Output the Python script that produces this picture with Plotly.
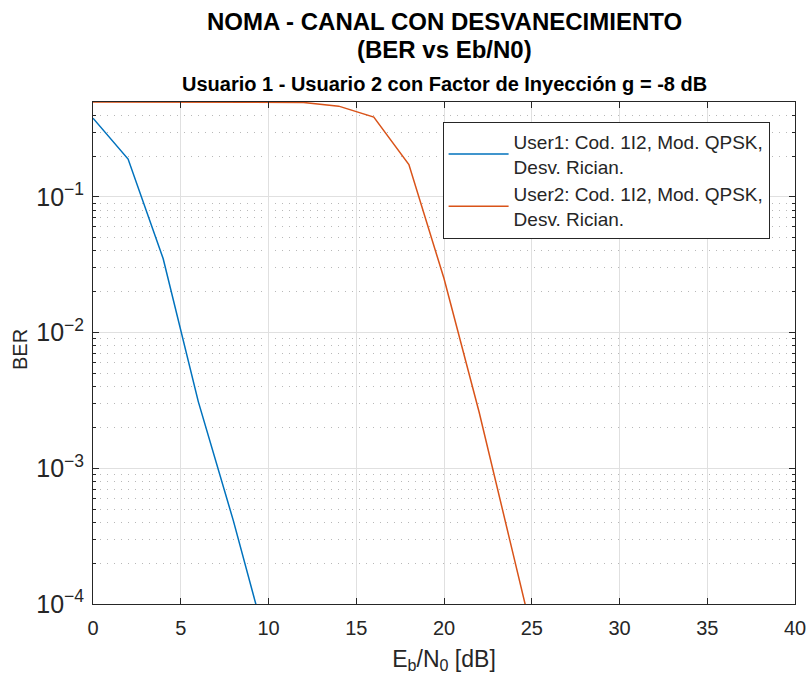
import plotly.graph_objects as go

# Eb/N0 points (dB) and simulated BER for each user
ebn0_user1 = [0, 2, 4, 6, 8, 10]
ber_user1 = [0.38, 0.19, 0.035, 0.0031, 0.00041, 0.000045]

ebn0_user2 = [0, 2, 4, 6, 8, 10, 12, 14, 16, 18, 20, 22, 24, 26]
ber_user2 = [0.5, 0.5, 0.5, 0.5, 0.5, 0.5, 0.496, 0.466, 0.387, 0.173,
             0.025, 0.0026, 0.00023, 0.000018]

legend_user1 = "User1: Cod. 1I2, Mod. QPSK,<br>Desv. Rician."
legend_user2 = "User2: Cod. 1I2, Mod. QPSK,<br>Desv. Rician."

x_ticks = [0, 5, 10, 15, 20, 25, 30, 35, 40]

FONT = "Liberation Sans, Arial, Helvetica, sans-serif"
TXT = "#262626"

fig = go.Figure()
fig.add_trace(go.Scatter(x=ebn0_user1, y=ber_user1, mode="lines",
                         name=legend_user1,
                         line=dict(color="#0072BD", width=1.5)))
fig.add_trace(go.Scatter(x=ebn0_user2, y=ber_user2, mode="lines",
                         name=legend_user2,
                         line=dict(color="#D95319", width=1.5)))

L, R, T, B = 93, 16, 102, 78
W, H = 811, 682
pw = W - L - R
ph = H - T - B


def px(pix):
    return (pix - L) / pw


def py(pix):
    return (H - B - pix) / ph


titles = [
    ("<b>NOMA - CANAL CON DESVANECIMIENTO</b>", 22, 24),
    ("<b>(BER vs Eb/N0)</b>", 49, 24),
    ("<b>Usuario 1 - Usuario 2 con Factor de Inyección g = -8 dB</b>", 84, 20),
]
annotations = []
for text, ypix, size in titles:
    annotations.append(dict(text=text, xref="paper", yref="paper",
                            x=0.5, y=py(ypix), xanchor="center",
                            yanchor="middle", showarrow=False,
                            font=dict(family=FONT, size=size, color="black")))

# vertical axis label
annotations.append(dict(text="BER", xref="paper", yref="paper",
                        x=px(20), y=py(350), xanchor="center",
                        yanchor="middle", textangle=-90, showarrow=False,
                        font=dict(family=FONT, size=20, color=TXT)))

fig.update_layout(
    width=W, height=H,
    margin=dict(l=L, r=R, t=T, b=B, autoexpand=False),
    paper_bgcolor="white", plot_bgcolor="white",
    font=dict(family=FONT, color=TXT),
    annotations=annotations,
    showlegend=True,
    legend=dict(x=0.498, y=py(121.7), xanchor="left", yanchor="top",
                bgcolor="white", bordercolor=TXT, borderwidth=1,
                font=dict(family=FONT, size=19, color=TXT),
                itemwidth=60, tracegroupgap=0),
    xaxis=dict(range=[0, 40], tickvals=x_ticks, ticktext=[str(v) for v in x_ticks],
               automargin=False,
               showgrid=True, gridcolor="#E0E0E0", gridwidth=1,
               showline=True, linecolor=TXT, linewidth=1, mirror="allticks",
               ticks="inside", ticklen=6, tickcolor=TXT,
               ticklabelstandoff=6,
               tickfont=dict(size=20, color=TXT), zeroline=False,
               title=dict(text="E<sub>b</sub>/N<sub>0</sub> [dB]",
                          font=dict(size=23, color=TXT), standoff=12)),
    yaxis=dict(type="log", range=[-4, -0.30103], dtick=1,
               exponentformat="power", automargin=False,
               showgrid=True, gridcolor="#E0E0E0", gridwidth=1,
               showline=True, linecolor=TXT, linewidth=1, mirror="allticks",
               ticks="inside", ticklen=6, tickcolor=TXT,
               ticklabelstandoff=4,
               tickfont=dict(size=20, color=TXT), zeroline=False,
               minor=dict(dtick="D1", ticks="inside", ticklen=3,
                          tickcolor=TXT, showgrid=True, gridcolor="#B8B8B8",
                          griddash="1px,6px", gridwidth=1)),
)

fig.write_html("out.html")
